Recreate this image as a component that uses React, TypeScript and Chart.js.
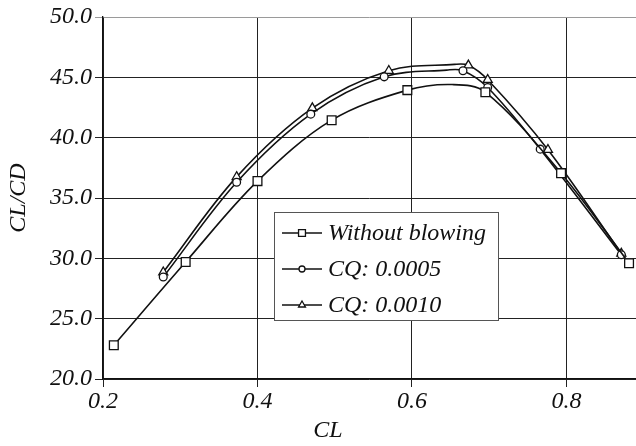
import React, { useEffect, useRef } from "react";
import { Chart, registerables } from "chart.js";

Chart.register(...registerables);

// ---- data ----
const withoutCL = [0.214, 0.307, 0.4, 0.496, 0.594, 0.652, 0.695, 0.793, 0.881];
const withoutCLCD = [22.8, 29.7, 36.4, 41.45, 43.94, 44.4, 43.77, 37.06, 29.6];
const withoutMarked = [1, 1, 1, 1, 1, 0, 1, 1, 1];

const cq5CL = [0.278, 0.373, 0.469, 0.564, 0.645, 0.666, 0.698, 0.766, 0.871];
const cq5CLCD = [28.45, 36.3, 41.95, 45.04, 45.6, 45.55, 44.16, 39.05, 30.3];
const cq5Marked = [1, 1, 1, 1, 0, 1, 1, 1, 1];

const cq10CL = [0.278, 0.373, 0.471, 0.57, 0.655, 0.673, 0.698, 0.776, 0.871];
const cq10CLCD = [28.85, 36.75, 42.45, 45.55, 46.07, 46.0, 44.8, 39.0, 30.4];
const cq10Marked = [1, 1, 1, 1, 0, 1, 1, 1, 1];

const seriesLabels = ["Without blowing", "CQ: 0.0005", "CQ: 0.0010"];
const xTickValues = [0.2, 0.4, 0.6, 0.8];
const yTickValues = [20, 25, 30, 35, 40, 45, 50];

const FAMILY = "'Liberation Serif', 'Times New Roman', serif";
const INK = "#111";

export default function App() {
  const ref = useRef<HTMLCanvasElement | null>(null);

  useEffect(() => {
    document.body.style.margin = "0";
    const pts = (xs: number[], ys: number[]) => xs.map((x, i) => ({ x, y: ys[i] }));
    const radii = (flags: number[], r: number) => flags.map((f) => (f ? r : 0));

    const styles = [
      { pointStyle: "rect", r: 6.2, lr: 4.6 },
      { pointStyle: "circle", r: 3.9, lr: 3.0 },
      { pointStyle: "triangle", r: 5.2, lr: 4.0 },
    ];

    const overlay = {
      id: "overlay",
      afterDraw(chart: any) {
        const ctx = chart.ctx as CanvasRenderingContext2D;
        ctx.save();
        // legend box
        ctx.fillStyle = "#fff";
        ctx.fillRect(274.5, 212.5, 224, 108);
        ctx.strokeStyle = "#555";
        ctx.lineWidth = 1;
        ctx.strokeRect(274.5, 212.5, 224, 108);
        ctx.font = `italic 24px ${FAMILY}`;
        ctx.textBaseline = "middle";
        ctx.textAlign = "left";
        seriesLabels.forEach((lab, i) => {
          const y = 233 + 36 * i;
          ctx.strokeStyle = INK;
          ctx.lineWidth = 1.5;
          ctx.beginPath();
          ctx.moveTo(282, y);
          ctx.lineTo(322, y);
          ctx.stroke();
          const st = styles[i];
          ctx.fillStyle = "#fff";
          ctx.lineWidth = 1.3;
          ctx.beginPath();
          if (st.pointStyle === "rect") {
            const s = st.lr * 0.75;
            ctx.rect(302 - s, y - s, 2 * s, 2 * s);
          } else if (st.pointStyle === "circle") {
            ctx.arc(302, y, st.lr, 0, Math.PI * 2);
          } else {
            const r = st.lr;
            ctx.moveTo(302, y - r);
            ctx.lineTo(302 + r * 0.866, y + r * 0.5);
            ctx.lineTo(302 - r * 0.866, y + r * 0.5);
            ctx.closePath();
          }
          ctx.fill();
          ctx.stroke();
          ctx.fillStyle = INK;
          ctx.fillText(lab, 328, y + 1);
        });
        // x axis title
        ctx.textAlign = "center";
        ctx.fillText("CL", 328, 431);
        ctx.restore();
      },
    };

    const mkSet = (i: number, xs: number[], ys: number[], flags: number[]) => ({
      label: seriesLabels[i],
      data: pts(xs, ys),
      showLine: true,
      fill: false,
      borderColor: INK,
      borderWidth: 1.6,
      tension: 0.35,
      pointStyle: styles[i].pointStyle,
      pointRadius: radii(flags, styles[i].r),
      pointHoverRadius: radii(flags, styles[i].r),
      pointBorderColor: INK,
      pointBackgroundColor: "#fff",
      pointBorderWidth: 1.3,
    });

    const tickFont = { family: FAMILY, size: 24, style: "italic" as const };

    const chart = new Chart(ref.current as HTMLCanvasElement, {
      type: "scatter",
      data: {
        datasets: [
          mkSet(0, withoutCL, withoutCLCD, withoutMarked),
          mkSet(1, cq5CL, cq5CLCD, cq5Marked),
          mkSet(2, cq10CL, cq10CLCD, cq10Marked),
        ] as any,
      },
      options: {
        responsive: false,
        animation: false,
        devicePixelRatio: 1,
        layout: { autoPadding: false, padding: { top: 17, left: 0, right: 0, bottom: 0 } },
        plugins: { legend: { display: false }, tooltip: { enabled: false } },
        scales: {
          x: {
            type: "linear",
            min: 0.2,
            max: 0.89,
            afterBuildTicks: (s: any) => {
              s.ticks = xTickValues.map((v) => ({ value: v }));
            },
            afterFit: (s: any) => {
              s.height = 67;
              s.paddingRight = 0;
              s.paddingLeft = 0;
            },
            ticks: {
              font: tickFont,
              color: INK,
              padding: 0,
              maxRotation: 0,
              autoSkip: false,
              callback: (v: any) => Number(v).toFixed(1),
            },
            grid: { color: "#222", lineWidth: 1, tickLength: 8, drawTicks: true },
            border: { color: INK, width: 1.3 },
          },
          y: {
            type: "linear",
            min: 20,
            max: 50,
            afterBuildTicks: (s: any) => {
              s.ticks = yTickValues.map((v) => ({ value: v }));
            },
            afterFit: (s: any) => {
              s.width = 103;
              s.paddingTop = 0;
              s.paddingBottom = 0;
            },
            ticks: {
              font: tickFont,
              color: INK,
              padding: 3,
              autoSkip: false,
              callback: (v: any) => Number(v).toFixed(1),
            },
            grid: {
              color: (c: any) => (c.tick && c.tick.value === 50 ? "#9a9a9a" : "#222"),
              lineWidth: 1,
              tickLength: 8,
              drawTicks: true,
            },
            border: { color: INK, width: 1.3 },
            title: {
              display: true,
              text: "CL/CD",
              font: tickFont,
              color: INK,
              padding: { top: 4, bottom: 0 },
            },
          },
        },
      } as any,
      plugins: [overlay],
    });
    return () => chart.destroy();
  }, []);

  return (
    <div style={{ width: 636, height: 446, background: "#fff" }}>
      <canvas ref={ref} width={636} height={446} style={{ display: "block" }} />
    </div>
  );
}
